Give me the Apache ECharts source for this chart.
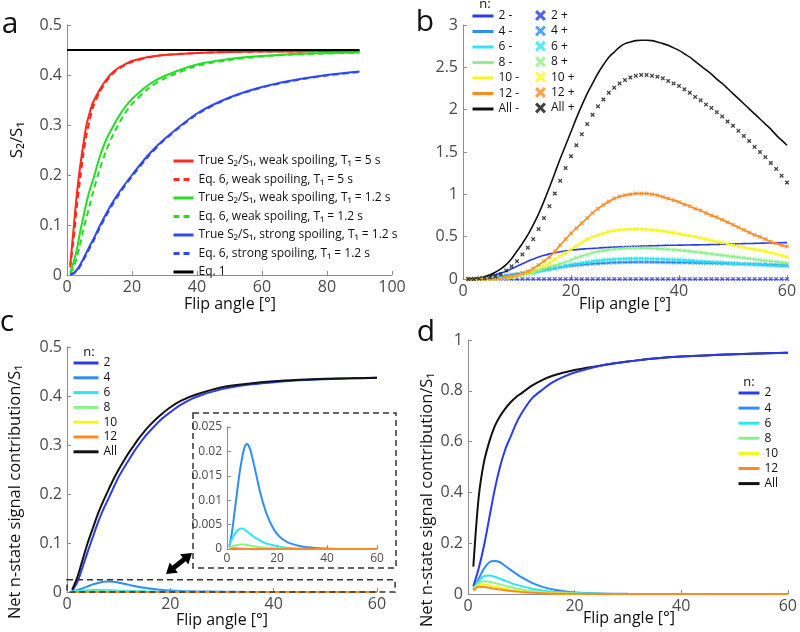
<!DOCTYPE html>
<html>
<head>
<meta charset="utf-8">
<script src="https://cdn.jsdelivr.net/npm/echarts@6/dist/echarts.min.js"></script>
<style>html,body{margin:0;padding:0;background:#fff;}#c{width:800px;height:632px;}</style>
</head>
<body>
<div id="c"></div>
<script>
// ---------- Panel a ----------
const aAng = [1,2,3,4,5,6,7,8,10,12,14,16,18,20,25,30,40,50,60,70,80,90];
const aRedTrue = [0.02,0.09,0.16,0.215,0.26,0.3,0.325,0.345,0.37,0.39,0.405,0.415,0.422,0.428,0.436,0.44,0.444,0.446,0.447,0.447,0.448,0.448];
const aRedEq6 = [0.015,0.07,0.135,0.19,0.24,0.28,0.31,0.335,0.365,0.386,0.402,0.413,0.42,0.426,0.435,0.44,0.444,0.446,0.447,0.447,0.448,0.448];
const aGreenTrue = [0.005,0.025,0.05,0.085,0.115,0.145,0.17,0.19,0.235,0.27,0.295,0.318,0.337,0.352,0.38,0.398,0.421,0.432,0.438,0.442,0.444,0.445];
const aGreenEq6 = [0.003,0.015,0.035,0.06,0.09,0.115,0.14,0.165,0.21,0.248,0.278,0.303,0.325,0.342,0.373,0.393,0.418,0.43,0.437,0.441,0.443,0.445];
const aBlueTrue = [0.001,0.004,0.01,0.02,0.032,0.045,0.058,0.07,0.097,0.122,0.145,0.165,0.183,0.2,0.24,0.272,0.323,0.355,0.376,0.39,0.4,0.407];
const aBlueEq6 = [0.001,0.003,0.008,0.017,0.029,0.041,0.054,0.066,0.093,0.118,0.141,0.161,0.18,0.197,0.237,0.27,0.321,0.354,0.375,0.389,0.399,0.406];
const aEq1Ang = [0,90];
const aEq1 = [0.45,0.45];
const aNames = ['True S\u2082/S\u2081, weak spoiling, T\u2081 = 5 s','Eq. 6, weak spoiling, T\u2081 = 5 s','True S\u2082/S\u2081, weak spoiling, T\u2081 = 1.2 s','Eq. 6, weak spoiling, T\u2081 = 1.2 s','True S\u2082/S\u2081, strong spoiling, T\u2081 = 1.2 s','Eq. 6, strong spoiling, T\u2081 = 1.2 s','Eq. 1'];

// ---------- Panel b ----------
const bAng = [1,2,3,4,5,6,7,8,9,10,11,12,13,14,15,16,17,18,19,20,21,22,23,24,25,26,27,28,29,30,31,32,33,34,35,36,37,38,39,40,41,42,43,44,45,46,47,48,49,50,51,52,53,54,55,56,57,58,59,60];
const b2m = [0,0.003,0.01,0.02,0.035,0.05,0.07,0.09,0.12,0.15, 0.18,0.21,0.235,0.26,0.28,0.297,0.31,0.322,0.332,0.34, 0.347,0.353,0.358,0.362,0.366,0.37,0.373,0.376,0.379,0.382, 0.384,0.386,0.388,0.39,0.392,0.394,0.396,0.398,0.399,0.4, 0.401,0.402,0.403,0.404,0.405,0.407,0.408,0.41,0.412,0.414, 0.416,0.418,0.419,0.421,0.423,0.425,0.426,0.428,0.429,0.43];
const b2p = [0,0,0,0,0,0,0,0,0,0, 0,0,0,0,0,0,0,0,0,0, 0,0,0,0,0,0,0,0,0,0, 0,0,0,0,0,0,0,0,0,0, 0,0,0,0,0,0,0,0,0,0, 0,0,0,0,0,0,0,0,0,0];
const b4 = [0,0.002,0.005,0.01,0.015,0.02,0.03,0.04,0.05,0.06, 0.07,0.08,0.09,0.1,0.11,0.12,0.13,0.14,0.15,0.157, 0.163,0.169,0.175,0.18,0.184,0.188,0.191,0.194,0.196,0.198, 0.199,0.2,0.2,0.2,0.2,0.199,0.198,0.197,0.196,0.195, 0.194,0.193,0.192,0.19,0.189,0.187,0.186,0.184,0.183,0.181, 0.18,0.178,0.176,0.175,0.173,0.171,0.169,0.167,0.165,0.163];
const b6 = [0,0.001,0.003,0.006,0.009,0.012,0.016,0.02,0.03,0.04, 0.05,0.06,0.07,0.085,0.1,0.11,0.125,0.14,0.155,0.17, 0.18,0.19,0.2,0.21,0.218,0.224,0.23,0.234,0.237,0.24, 0.241,0.242,0.242,0.241,0.24,0.238,0.235,0.232,0.229,0.226, 0.222,0.218,0.214,0.21,0.206,0.202,0.198,0.194,0.19,0.186, 0.182,0.178,0.174,0.17,0.166,0.163,0.16,0.157,0.154,0.15];
const b8 = [0,0,0.001,0.002,0.004,0.007,0.01,0.015,0.025,0.035, 0.05,0.065,0.08,0.1,0.12,0.14,0.16,0.18,0.2,0.225, 0.25,0.27,0.29,0.31,0.325,0.335,0.345,0.352,0.358,0.362, 0.365,0.366,0.366,0.365,0.362,0.358,0.354,0.35,0.345,0.34, 0.334,0.328,0.32,0.313,0.305,0.297,0.289,0.281,0.273,0.265, 0.257,0.249,0.241,0.233,0.225,0.218,0.21,0.203,0.196,0.19];
const b10 = [0,0,0,0.001,0.002,0.004,0.007,0.01,0.02,0.035, 0.05,0.07,0.09,0.12,0.15,0.19,0.23,0.27,0.31,0.35, 0.39,0.43,0.47,0.5,0.52,0.54,0.56,0.57,0.58,0.585, 0.59,0.59,0.59,0.585,0.58,0.575,0.565,0.555,0.545,0.535, 0.52,0.51,0.5,0.485,0.47,0.455,0.44,0.43,0.415,0.4, 0.39,0.375,0.36,0.35,0.34,0.325,0.31,0.295,0.28,0.26];
const b12 = [0,0,0,0,0.002,0.005,0.01,0.018,0.03,0.045, 0.065,0.09,0.125,0.165,0.21,0.26,0.325,0.4,0.47,0.54, 0.6,0.66,0.72,0.78,0.83,0.875,0.915,0.95,0.975,0.99, 1.0,1.01,1.01,1.01,1.0,0.99,0.97,0.95,0.93,0.91, 0.88,0.86,0.83,0.81,0.78,0.75,0.73,0.7,0.67,0.64, 0.61,0.58,0.55,0.52,0.5,0.47,0.44,0.42,0.4,0.385];
const bAllm = [0,0.005,0.015,0.03,0.05,0.08,0.12,0.17,0.24,0.33, 0.42,0.52,0.64,0.77,0.92,1.08,1.25,1.42,1.58,1.74, 1.9,2.05,2.19,2.31,2.43,2.53,2.62,2.68,2.74,2.78, 2.8,2.815,2.82,2.82,2.815,2.8,2.78,2.76,2.73,2.7, 2.66,2.62,2.57,2.52,2.47,2.42,2.36,2.31,2.25,2.19, 2.13,2.07,2.01,1.95,1.89,1.83,1.77,1.7,1.64,1.58];
const bAllp = [0,0,0.005,0.01,0.02,0.03,0.055,0.1,0.15,0.21, 0.29,0.37,0.47,0.59,0.72,0.86,1.01,1.16,1.31,1.45, 1.58,1.71,1.83,1.94,2.04,2.12,2.2,2.26,2.31,2.35, 2.38,2.4,2.41,2.41,2.4,2.39,2.37,2.34,2.31,2.28, 2.24,2.2,2.15,2.11,2.06,2.02,1.97,1.92,1.86,1.81, 1.75,1.69,1.63,1.56,1.5,1.44,1.37,1.3,1.22,1.14];

// ---------- Panel c ----------
const cAng = [1,2,3,4,5,6,7,8,9,10,11,12,13,14,15,16,18,20,22,25,30,35,40,45,50,55,60];
const c2 = [0.002,0.02,0.05,0.082,0.112,0.142,0.168,0.19,0.213,0.235,0.253,0.27,0.287,0.302,0.316,0.328,0.35,0.367,0.382,0.398,0.414,0.423,0.428,0.432,0.434,0.436,0.437];
const c4 = [0.0005,0.0035,0.0075,0.0115,0.0155,0.0185,0.0208,0.0215,0.0208,0.019,0.0168,0.0145,0.0122,0.0102,0.0085,0.007,0.0047,0.0031,0.0021,0.0012,0.0005,0.0002,0.0001,0,0,0,0];
const c6 = [0.0008,0.002,0.003,0.0037,0.0041,0.0042,0.004,0.0036,0.0032,0.0028,0.0024,0.0021,0.0018,0.0015,0.0013,0.0011,0.0008,0.0006,0.0004,0.0002,0.0001,0,0,0,0,0,0];
const c8 = [0.0002,0.0005,0.0007,0.0008,0.0009,0.0009,0.0009,0.0008,0.0007,0.0006,0.0005,0.0004,0.0004,0.0003,0.0003,0.0002,0.0002,0.0001,0.0001,0,0,0,0,0,0,0,0];
const c10 = [0.0001,0.0002,0.0002,0.0002,0.0002,0.0002,0.0002,0.0001,0.0001,0.0001,0.0001,0,0,0,0,0,0,0,0,0,0,0,0,0,0,0,0];
const c12 = [0,0.0001,0.0001,0.0001,0,0,0,0,0,0,0,0,0,0,0,0,0,0,0,0,0,0,0,0,0,0,0];
const cAll = [0.005,0.03,0.065,0.1,0.13,0.16,0.185,0.208,0.23,0.25,0.268,0.285,0.3,0.315,0.328,0.34,0.36,0.377,0.39,0.403,0.418,0.425,0.43,0.433,0.435,0.436,0.437];

// ---------- Panel d ----------
const dAng = [1,2,3,4,5,6,7,8,9,10,12,14,16,18,20,25,30,35,40,50,60];
const d2 = [0.03,0.1,0.19,0.3,0.41,0.5,0.57,0.62,0.67,0.71,0.77,0.805,0.835,0.856,0.872,0.9,0.915,0.927,0.935,0.944,0.95];
const d4 = [0.02,0.06,0.1,0.125,0.13,0.125,0.11,0.095,0.08,0.066,0.044,0.028,0.018,0.011,0.006,0.002,0.0005,0,0,0,0];
const d6 = [0.02,0.05,0.07,0.073,0.068,0.06,0.052,0.044,0.037,0.031,0.021,0.014,0.009,0.006,0.004,0.001,0,0,0,0,0];
const d8 = [0.018,0.042,0.05,0.048,0.043,0.038,0.032,0.027,0.022,0.018,0.012,0.008,0.005,0.003,0.002,0.0005,0,0,0,0,0];
const d10 = [0.016,0.036,0.038,0.034,0.029,0.025,0.021,0.017,0.014,0.011,0.007,0.005,0.003,0.002,0.001,0,0,0,0,0,0];
const d12 = [0.014,0.029,0.028,0.025,0.021,0.018,0.015,0.012,0.01,0.008,0.005,0.003,0.002,0.001,0.0005,0,0,0,0,0,0];
const dAll = [0.108,0.38,0.52,0.6,0.66,0.7,0.73,0.755,0.775,0.79,0.82,0.843,0.86,0.872,0.882,0.9,0.915,0.927,0.935,0.944,0.95];

const nNames = ['2','4','6','8','10','12','All'];

// ---------- Styling ----------
const FONT = "'Open Sans', 'Noto Sans', 'DejaVu Sans', sans-serif";
const C = {blue:'#2b3be8', azure:'#2f8ef2', cyan:'#2ce6f5', green:'#8ef08c', yellow:'#f6f61a', orange:'#ff8a22', black:'#111111',
           red:'#ff2a1a', lgreen:'#20e020', ablue:'#2f49f2'};
const nColors = [C.blue,C.azure,C.cyan,C.green,C.yellow,C.orange,C.black];
const AX = '#8c8c8c';
const CROSS = 'path://M0,2 L2,0 L5,3 L8,0 L10,2 L7,5 L10,8 L8,10 L5,7 L2,10 L0,8 L3,5 Z';

function pairs(xs, ys){ return xs.map((x,i)=>[x, ys[i]]); }
function axis(grid, min, max, interval, fs){
  return {type:'value', gridIndex:grid, min, max, interval,
    axisLine:{show:true, onZero:false, lineStyle:{color:AX, width:1}},
    axisTick:{show:true, inside:true, length:4, lineStyle:{color:AX}},
    axisLabel:{color:'#4a4a4a', fontSize:fs, fontFamily:FONT, margin:4},
    splitLine:{show:false}};
}
function line(name, grid, xs, ys, color, width, dashed, z){
  return {type:'line', name, xAxisIndex:grid, yAxisIndex:grid, data:pairs(xs,ys),
    symbol:'none', smooth:0.3, z: z||2,
    lineStyle:{color, width, type: dashed ? [6,4] : 'solid'}, itemStyle:{color}};
}
function cross(name, grid, xs, ys, color, size){
  return {type:'scatter', name, xAxisIndex:grid, yAxisIndex:grid, data:pairs(xs,ys),
    symbol:CROSS, symbolSize:size, itemStyle:{color}, z:3};
}

const grids = [
  {left:67, top:25, width:325, height:250},
  {left:463, top:25, width:324, height:254},
  {left:67, top:347, width:310, height:245},
  {left:468, top:340, width:322, height:254},
  {left:227, top:427, width:150, height:122}
];
const xAxes = [axis(0,0,100,20,16), axis(1,0,60,20,16), axis(2,0,60,20,16), axis(3,0,60,20,16), axis(4,0,60,20,12)];
const yAxes = [axis(0,0,0.5,0.1,16), axis(1,0,3,0.5,16), axis(2,0,0.5,0.1,16), axis(3,0,1,0.2,16), axis(4,0,0.025,0.005,12)];
yAxes.forEach(a=>{a.axisLabel.margin=5;});

const series = [];
// a
series.push(line(aNames[0],0,aAng,aRedTrue,C.red,2,false));
series.push(line(aNames[1],0,aAng,aRedEq6,C.red,2,true));
series.push(line(aNames[2],0,aAng,aGreenTrue,C.lgreen,2,false));
series.push(line(aNames[3],0,aAng,aGreenEq6,C.lgreen,2,true));
series.push(line(aNames[4],0,aAng,aBlueTrue,C.ablue,2,false));
series.push(line(aNames[5],0,aAng,aBlueEq6,C.ablue,2,true));
series.push(line(aNames[6],0,aEq1Ang,aEq1,'#000',2,false));
// b
const bMinus = [b2m,b4,b6,b8,b10,b12,bAllm];
const bPlus = [b2p,b4,b6,b8,b10,b12,bAllp];
nNames.forEach((n,i)=>{ series.push(line(n+' -',1,bAng,bMinus[i],nColors[i],1.6,false)); });
nNames.forEach((n,i)=>{ series.push(cross(n+' +',1,bAng,bPlus[i],nColors[i],4.5)); });
// c
const cSets = [c2,c4,c6,c8,c10,c12,cAll];
[0,1,2,3,6,5,4].forEach(i=>{ series.push(line(nNames[i],2,cAng,cSets[i],nColors[i],2,false, i===5?4:3)); });
// inset
[1,2,3,4,5].forEach(i=>{ series.push(line(nNames[i],4,cAng,cSets[i],nColors[i],2,false)); });
// d
const dSets = [d2,d4,d6,d8,d10,d12,dAll];
[6,0,1,2,3,4,5].forEach(i=>{ series.push(line(nNames[i],3,dAng,dSets[i],nColors[i],2,false)); });

const legText = {fontFamily:FONT, fontSize:12, color:'#111'};
const hideSym = {opacity:0};
const legends = [
  {left:172, top:155, orient:'vertical', padding:0, itemWidth:20, itemHeight:10, itemGap:6.5, data:aNames,
   textStyle:{fontFamily:FONT, fontSize:12, color:'#111'}, selectedMode:false, itemStyle:hideSym, lineStyle:{width:3}},
  {left:471, top:10, orient:'vertical', padding:0, itemWidth:21, itemHeight:10, itemGap:3.5, data:nNames.map(n=>n+' -'),
   textStyle:legText, selectedMode:false, itemStyle:hideSym, lineStyle:{width:3}},
  {left:535, top:9.5, orient:'vertical', padding:0, itemWidth:11, itemHeight:11, itemGap:3.4, data:nNames.map(n=>n+' +'),
   textStyle:legText, selectedMode:false},
  {left:72, top:357, orient:'vertical', padding:0, itemWidth:25, itemHeight:10, itemGap:2.8, data:nNames,
   textStyle:legText, selectedMode:false, itemStyle:hideSym, lineStyle:{width:3}},
  {left:737, top:387, orient:'vertical', padding:0, itemWidth:21, itemHeight:10, itemGap:3.1, data:nNames,
   textStyle:legText, selectedMode:false, itemStyle:hideSym, lineStyle:{width:3}}
];

const chart = echarts.init(document.getElementById('c'), null, {renderer:'canvas'});
chart.setOption({
  animation:false, backgroundColor:'#fff',
  grid:grids, xAxis:xAxes, yAxis:yAxes, legend:legends, series
});

// annotation graphics
function txt(x,y,text,fs,opts){
  return Object.assign({type:'text', x, y, z:10, style:{text, font: (opts&&opts.weight||'normal')+' '+fs+'px '+FONT, fill:'#111', textAlign:'center', textVerticalAlign:'middle'}}, opts&&opts.rot?{rotation:opts.rot}:{});
}
const g = [];
g.push(txt(10,24,'a',30,{}));
g.push(txt(425,22,'b',30,{}));
g.push(txt(7,322,'c',30,{}));
g.push(txt(426,332,'d',30,{}));
g.push(txt(230,304,'Flip angle [°]',16,{}));
g.push(txt(625,304,'Flip angle [°]',16,{}));
g.push(txt(222,620,'Flip angle [°]',16,{}));
g.push(txt(629,618,'Flip angle [°]',16,{}));
g.push(txt(17,140,'S\u2082/S\u2081',17,{rot:Math.PI/2}));
g.push(txt(15,492,'Net n-state signal contribution/S\u2081',16.5,{rot:Math.PI/2}));
g.push(txt(427,500,'Net n-state signal contribution/S\u2081',16.5,{rot:Math.PI/2}));
g.push(txt(485,4,'n:',13,{}));
g.push(txt(89,352,'n:',13,{}));
g.push(txt(749,382,'n:',13,{}));
// dashed zoom box in panel c computed from data coords
const p0 = chart.convertToPixel({xAxisIndex:2, yAxisIndex:2}, [0, 0.025]);
const p1 = chart.convertToPixel({xAxisIndex:2, yAxisIndex:2}, [63.5, 0]);
const dashStyle = {fill:'none', stroke:'#333', lineWidth:1.5, lineDash:[6,4]};
g.push({type:'rect', z:9, shape:{x:p0[0], y:p0[1], width:p1[0]-p0[0], height:p1[1]-p0[1]}, style:dashStyle});
// inset frame
g.push({type:'rect', z:9, shape:{x:193, y:413, width:203, height:155}, style:dashStyle});
// double arrow
g.push({type:'polygon', z:9, shape:{points:[[166,574],[177.9,572.8],[175.4,569.6],[185.8,561.2],[188.3,564.4],[192,553],[180.1,554.2],[182.6,557.4],[172.2,565.7],[169.7,562.6]]}, style:{fill:'#000'}});
chart.setOption({graphic:g});
</script>
</body>
</html>
